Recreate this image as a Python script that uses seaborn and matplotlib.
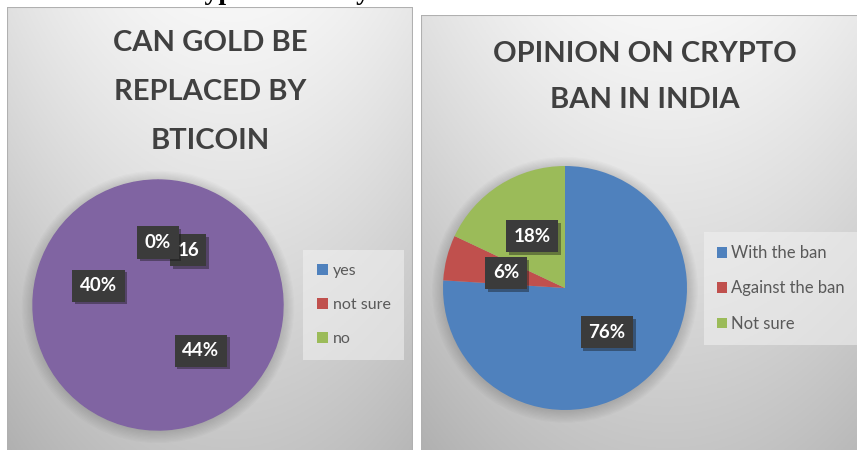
import numpy as np
import matplotlib
matplotlib.use("Agg")
import matplotlib.pyplot as plt
import matplotlib.patheffects as pe
from matplotlib.patches import Patch, Circle, Rectangle
import seaborn as sns

# ---------------- data ----------------
gold_title = "CAN GOLD BE\nREPLACED BY\nBTICOIN"
gold_values = [16, 44, 40, 0]
gold_labels = ["16", "44%", "40%", "0%"]
gold_legend = ["yes", "not sure", "no"]

ban_title = "OPINION ON CRYPTO\nBAN IN INDIA"
ban_categories = ["With the ban", "Against the ban", "Not sure"]
ban_values = [76, 6, 18]

top_caption = "Crypto currency"

# ---------------- style ----------------
sns.set_theme(style="white")
plt.rcParams['font.family'] = ['Lato', 'DejaVu Sans']

office = sns.color_palette(["#4F81BD", "#C0504D", "#9BBB59", "#8064A2"])
BLUE, RED, GREEN, PURPLE = office

W, H = 857, 450
fig = plt.figure(figsize=(W / 100, H / 100), dpi=100)
fig.patch.set_facecolor("white")


def px_axes(x0, y0, x1, y1, **kw):
    return fig.add_axes([x0 / W, 1 - y1 / H, (x1 - x0) / W, (y1 - y0) / H], **kw)


def panel(x0, y0, x1, y1):
    ax = px_axes(x0, y0, x1, y1)
    ny, nx = 200, 200
    yy, xx = np.mgrid[0:1:ny * 1j, 0:1:nx * 1j]
    v = 0.965 - 0.19 * yy ** 1.1 - 0.07 * (np.abs(xx - 0.55) * 2) ** 2
    img = np.dstack([v, v, v])
    ax.imshow(img, extent=[0, 1, 0, 1], aspect="auto", origin="upper", zorder=0)
    ax.set_xlim(0, 1)
    ax.set_ylim(0, 1)
    ax.axis("off")
    ax.add_patch(Rectangle((0, 0), 1, 1, fill=False, edgecolor="#b0b0b0",
                           linewidth=1.5, transform=ax.transAxes, zorder=2))
    return ax


panel(7, 7, 413, 452)
panel(421, 15, 870, 452)


def pie_axes(cx, cy, r, pad=1.25):
    ax = px_axes(cx - pad * r, cy - pad * r, cx + pad * r, cy + pad * r)
    ax.set_xlim(-pad, pad)
    ax.set_ylim(-pad, pad)
    ax.set_aspect("equal")
    ax.axis("off")
    ax.patch.set_alpha(0)
    # soft shadow around the pie
    for k in range(10):
        ax.add_patch(Circle((0.0, -0.015), 1.0 + 0.01 * k, color="black",
                            alpha=0.014, zorder=0, linewidth=0))
    return ax


def style_labels(texts, size):
    for t in texts:
        t.set_color("white")
        t.set_fontweight("bold")
        t.set_fontsize(size)
        t.set_bbox(dict(boxstyle="square,pad=0.4", facecolor="#3b3b3b",
                        edgecolor="none"))
        t.get_bbox_patch().set_path_effects(
            [pe.SimplePatchShadow(offset=(2, -2), alpha=0.4), pe.Normal()])
        t.set_zorder(5)


# ---------------- left pie ----------------
axL = pie_axes(158, 305, 125)
wedges, texts = axL.pie(gold_values, labels=gold_labels, colors=[PURPLE] * len(gold_values),
                        startangle=90, counterclock=False, labeldistance=0.5,
                        radius=1.0, wedgeprops=dict(linewidth=1.0, edgecolor=PURPLE),
                        textprops=dict(ha="center", va="center"), frame=False)
for w in wedges:
    w.set_zorder(2)
axL.set_xlim(-1.25, 1.25)
axL.set_ylim(-1.25, 1.25)
style_labels(texts, 13.5)

handlesL = [Patch(facecolor=c, edgecolor="none") for c in [BLUE, RED, GREEN]]
legL = fig.legend(handlesL, gold_legend, loc="upper left",
                  bbox_to_anchor=(308 / W, 1 - 255 / H), frameon=True,
                  fontsize=11.5, labelcolor="#595959", handlelength=0.7,
                  handleheight=0.7, handletextpad=0.3, labelspacing=1.25,
                  borderpad=0.55, borderaxespad=0)
legL.get_frame().set_facecolor("#f2f2f2")
legL.get_frame().set_alpha(0.55)
legL.get_frame().set_edgecolor("none")
legL.get_frame().set_boxstyle("square")

# ---------------- right pie ----------------
axR = pie_axes(565, 288, 122)
wedgesR, textsR, autoR = axR.pie(ban_values, colors=[BLUE, RED, GREEN],
                                 startangle=90, counterclock=False,
                                 autopct="%d%%", pctdistance=0.5, radius=1.0,
                                 wedgeprops=dict(linewidth=0, edgecolor="none"),
                                 textprops=dict(ha="center", va="center"), frame=False)
for w in wedgesR:
    w.set_zorder(2)
axR.set_xlim(-1.25, 1.25)
axR.set_ylim(-1.25, 1.25)
style_labels(autoR, 13.5)

handlesR = [Patch(facecolor=c, edgecolor="none") for c in [BLUE, RED, GREEN]]
legR = fig.legend(handlesR, ban_categories, loc="upper left",
                  bbox_to_anchor=(709 / W, 1 - 237 / H), frameon=True,
                  fontsize=12, labelcolor="#595959", handlelength=0.6,
                  handleheight=0.6, handletextpad=0.2, labelspacing=1.15,
                  borderpad=0.5, borderaxespad=0)
legR.get_frame().set_facecolor("#f2f2f2")
legR.get_frame().set_alpha(0.55)
legR.get_frame().set_edgecolor("none")
legR.get_frame().set_boxstyle("square")

# ---------------- titles ----------------
fig.text(210 / W, 1 - 30 / H, gold_title, ha="center", va="top", fontsize=21,
         fontweight="bold", color="#404040", linespacing=2.1)
fig.text(645 / W, 1 - 41 / H, ban_title, ha="center", va="top", fontsize=21,
         fontweight="bold", color="#404040", linespacing=1.95)

# partially cut caption at very top (as in the reference)
fig.text(172 / W, 1 + 1 / H, top_caption, ha="left", va="baseline", fontsize=20,
         fontweight="bold", color="black", family=["Liberation Serif", "DejaVu Serif"])

fig.savefig("out.png", dpi=100, facecolor="white")
